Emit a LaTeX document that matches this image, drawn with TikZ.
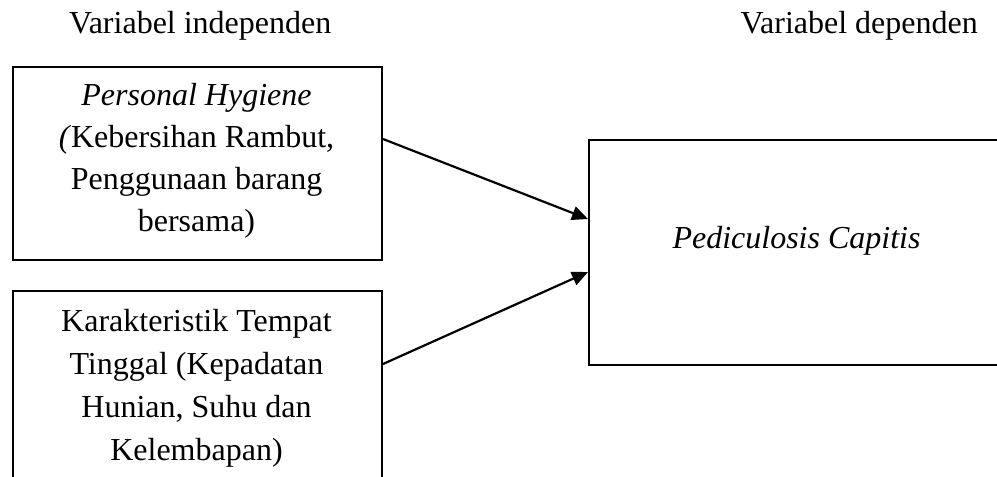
\documentclass[tikz,border=0pt]{standalone}
\usepackage{fontspec}
\setmainfont{Liberation Serif}
\usetikzlibrary{arrows.meta}
\begin{document}
\begin{tikzpicture}[x=1pt,y=-1pt,
  txt/.style={inner sep=0pt,font=\fontsize{32}{42}\selectfont},
  boxline/.style={draw=black,line width=2pt},
  conn/.style={line width=2.2pt,-{Triangle[length=16pt,width=14pt]}}]
\useasboundingbox (0,0) rectangle (997,477);
\clip (0,0) rectangle (997,477);
% boxes
\node[boxline,minimum width=369pt,minimum height=193pt,inner sep=0pt,anchor=north west] (ph) at (12,66) {};
\node[boxline,minimum width=369pt,minimum height=220pt,inner sep=0pt,anchor=north west] (kt) at (12,290) {};
\node[boxline,minimum width=430pt,minimum height=225pt,inner sep=0pt,anchor=north west] (pc) at (588,139) {};
% headers
\node[txt,anchor=base west] (h1) at (69,33) {Variabel independen};
\node[txt,anchor=base east] (h2) at (978,33) {Variabel dependen};
% texts
\node[txt,anchor=base] (t1) at (196.5,105) {\itshape Personal Hygiene};
\node[txt,anchor=base] (t2) at (196.5,147) {\textit{(}Kebersihan Rambut,};
\node[txt,anchor=base] (t3) at (196.5,189) {Penggunaan barang};
\node[txt,anchor=base] (t4) at (196.5,231) {bersama)};
\node[txt,anchor=base] (k1) at (196.5,331) {Karakteristik Tempat};
\node[txt,anchor=base] (k2) at (196.5,374) {Tinggal (Kepadatan};
\node[txt,anchor=base] (k3) at (196.5,417) {Hunian, Suhu dan};
\node[txt,anchor=base] (k4) at (196.5,460) {Kelembapan)};
\node[txt,anchor=base] (p1) at (796.5,248) {\itshape Pediculosis Capitis};
% connectors
\coordinate (a1) at (ph.east |- 0,139);
\coordinate (b1) at (pc.west |- 0,219);
\coordinate (a2) at (kt.east |- 0,364);
\coordinate (b2) at (pc.west |- 0,272);
\draw[conn] (a1) -- (b1);
\draw[conn] (a2) -- (b2);
\end{tikzpicture}
\end{document}
